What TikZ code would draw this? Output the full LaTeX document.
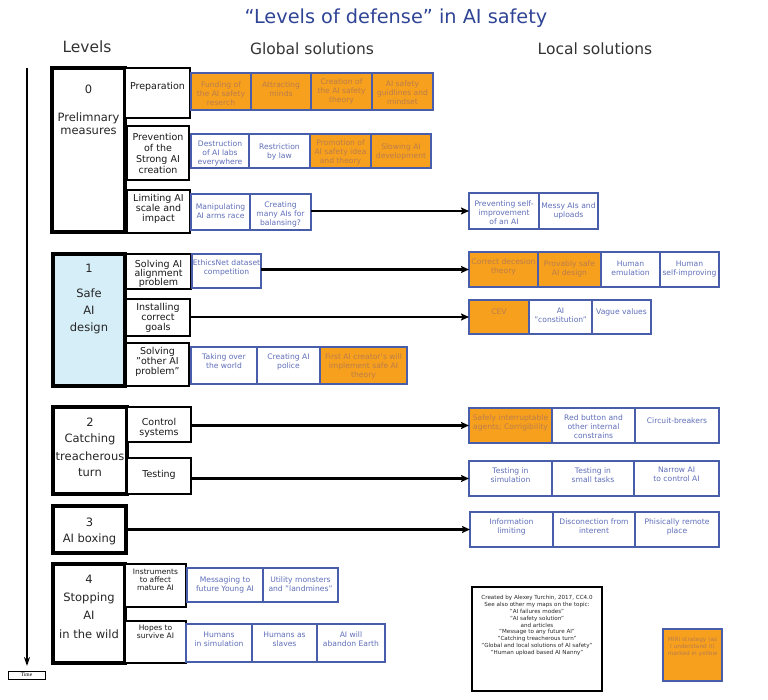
\documentclass[tikz,border=0pt]{standalone}
\usepackage{fontspec}
\setmainfont{DejaVu Sans}
\newfontfamily\timesf{Liberation Serif}
\usetikzlibrary{arrows.meta}
\definecolor{cellblue}{RGB}{72,94,170}
\definecolor{celltext}{RGB}{95,110,185}
\definecolor{orfill}{RGB}{247,160,30}
\definecolor{ortext}{RGB}{185,125,75}
\definecolor{lvlblue}{RGB}{214,238,248}
\definecolor{titleblue}{RGB}{48,68,150}
\newcommand\cell[8]{%
  \node[#1, anchor=north west, minimum width={#5-#3}, minimum height={#6-#4}] (#2) at (#3,#4) {};
  \node[#1 text, anchor=north] (#2-t) at ([yshift=-#7pt]#2.north) {#8};
}
\begin{document}
\begin{tikzpicture}[x=1pt,y=-1pt,
  cellbase/.style={draw=cellblue, line width=1.5pt, inner sep=0pt, outer sep=0pt},
  cellw/.style={cellbase, fill=white},
  cello/.style={cellbase, fill=orfill},
  cellw text/.style={text=celltext, font=\fontsize{7.6}{9}\selectfont, align=center, inner sep=0pt, yshift=4.7pt},
  cello text/.style={text=ortext, font=\fontsize{7.6}{9}\selectfont, align=center, inner sep=0pt, yshift=4.7pt},
  sub/.style={draw=black, line width=2.5pt, fill=white, inner sep=0pt, outer sep=0pt},
  sub text/.style={text=black!90, font=\fontsize{9.5}{10}\selectfont, align=center, inner sep=0pt, yshift=6.7pt},
  subs/.style={sub},
  subs text/.style={text=black!90, font=\fontsize{7.5}{8}\selectfont, align=center, inner sep=0pt, yshift=5.2pt},
  lvl/.style={draw=black, line width=3.2pt, fill=white, inner sep=0pt, outer sep=0pt},
  lvl text/.style={text=black!85, font=\fontsize{11.5}{17}\selectfont, align=center, inner sep=0pt, yshift=8.1pt},
  lvlb/.style={lvl, fill=lvlblue},
  lvlb text/.style={lvl text},
  arr/.style={draw=black, line width=2.8pt, -{Stealth[length=8pt,width=7pt,inset=1.5pt]}},
  timearr/.style={draw=black, line width=2pt, -{Stealth[length=9pt,width=6pt]}},
  hdr/.style={font=\fontsize{15.5}{17}\selectfont, text=black!80, inner sep=0pt, anchor=base},
  ttl/.style={font=\fontsize{19.3}{21}\selectfont, text=titleblue, inner sep=0pt, anchor=base}
]
\useasboundingbox (0,0) rectangle (768,700);
% titles
\node[ttl] (title) at (396,24) {“Levels of defense” in AI safety};
\node[hdr] (hlev) at (87,53) {Levels};
\node[hdr] (hglob) at (312,55) {Global solutions};
\node[hdr] (hloc) at (595,55) {Local solutions};
% time axis
\coordinate (t0) at (27,68);
\coordinate (t1) at (27,666);
\draw[timearr] (t0) -- (t1);
\node[draw=black, line width=0.8pt, minimum width=37pt, minimum height=8pt, inner sep=0pt, font=\timesf\fontsize{5.5}{6}\selectfont] (time) at (26.5,675) {Time};
% ---------- level 0
\cell{lvl}{L0}{52}{68}{125}{232}{25}{0\\[11pt]Prelimnary\\[-4pt]measures}
\cell{sub}{S01}{125}{68}{190}{118}{21}{Preparation}
\cell{sub}{S02}{127}{126}{189}{180}{14}{Prevention\\[1pt]of the\\[1pt]Strong AI\\[1pt]creation}
\cell{sub}{S03}{127}{190}{190}{233}{11}{Limiting AI\\scale and\\impact}
\cell{cello}{G01a}{191}{73}{251}{110}{13}{Funding of\\the AI safety\\reserch}
\cell{cello}{G01b}{251}{73}{311}{110}{13}{Attracting\\minds}
\cell{cello}{G01c}{311}{73}{372}{110}{10}{Creation of\\the AI safety\\theory}
\cell{cello}{G01d}{372}{73}{433}{110}{12}{AI safety\\guidlines and\\mindset}
\cell{cellw}{G02a}{191}{134}{249}{168}{11}{Destruction\\of AI labs\\everywhere}
\cell{cellw}{G02b}{249}{134}{310}{168}{14}{Restriction\\by law}
\cell{cello}{G02c}{310}{134}{371}{168}{10}{Promotion of\\AI safety idea\\and theory}
\cell{cello}{G02d}{371}{134}{431}{168}{14}{Slowing AI\\development}
\cell{cellw}{G03a}{191}{194}{250}{230}{14}{Manipulating\\AI arms race}
\cell{cellw}{G03b}{250}{194}{311}{230}{12}{Creating\\many AIs for\\balansing?}
\cell{cellw}{L03a}{469}{193}{539}{229}{12}{Preventing self-\\improvement\\of an AI}
\cell{cellw}{L03b}{539}{193}{598}{229}{14}{Messy AIs and\\uploads}
% ---------- level 1
\cell{lvlb}{L1}{53}{254}{125}{386}{18}{1\\[8pt]Safe\\AI\\design}
\cell{sub}{S11}{126}{254}{191}{289}{13}{Solving AI\\[-1pt]alignment\\[-1pt]problem}
\cell{sub}{S12}{126}{299}{190}{336}{11}{Installing\\correct\\goals}
\cell{sub}{S13}{126}{343}{189}{386}{11}{Solving\\"other AI\\problem"}
\cell{cellw}{G11}{192}{254}{261}{288}{10}{EthicsNet dataset\\competition}
\cell{cello}{L11a}{469}{252}{538}{287}{11}{Correct decesion\\theory}
\cell{cello}{L11b}{538}{252}{601}{287}{13}{Provably safe\\AI design}
\cell{cellw}{L11c}{601}{252}{660}{287}{13}{Human\\emulation}
\cell{cellw}{L11d}{660}{252}{719}{287}{13}{Human\\self-improving}
\cell{cello}{L12a}{469}{300}{529}{334}{13}{CEV}
\cell{cellw}{L12b}{529}{300}{592}{334}{12}{AI\\"constitution"}
\cell{cellw}{L12c}{592}{300}{651}{334}{13}{Vague values}
\cell{cellw}{G13a}{191}{347}{257}{384}{11}{Taking over\\the world}
\cell{cellw}{G13b}{257}{347}{320}{384}{11}{Creating AI\\police}
\cell{cello}{G13c}{320}{347}{407}{384}{11}{First AI creator's will\\implement safe AI\\theory}
% ---------- level 2
\cell{lvl}{L2}{53}{407}{127}{494}{19}{2\\[-1pt]Catching\\[1pt]treacherous\\[-1pt]turn}
\cell{sub}{S21}{127}{407}{191}{442}{18}{Control\\systems}
\cell{sub}{S22}{127}{458}{191}{494}{19}{Testing}
\cell{cello}{L21a}{469}{408}{552}{443}{11}{Safely interruptable\\agents; Corrigibility}
\cell{cellw}{L21b}{552}{408}{635}{443}{11}{Red button and\\other internal\\constrains}
\cell{cellw}{L21c}{635}{408}{719}{443}{14}{Circuit-breakers}
\cell{cellw}{L22a}{469}{461}{552}{496}{11}{Testing in\\simulation}
\cell{cellw}{L22b}{552}{461}{634}{496}{11}{Testing in\\small tasks}
\cell{cellw}{L22c}{634}{461}{719}{496}{10}{Narrow AI\\to control AI}
% ---------- level 3
\cell{lvl}{L3}{53}{506}{126}{553}{20}{3\\[-1pt]AI boxing}
\cell{cellw}{L31a}{470}{512}{553}{547}{11}{Information\\limiting}
\cell{cellw}{L31b}{553}{512}{635}{547}{11}{Disconection from\\interent}
\cell{cellw}{L31c}{635}{512}{719}{547}{11}{Phisically remote\\place}
% ---------- level 4
\cell{lvl}{L4}{53}{564}{125}{663}{19}{4\\[1pt]Stopping\\[1pt]AI\\[2pt]in the wild}
\cell{subs}{S41}{125}{564}{186}{607}{10.5}{Instruments\\to affect\\mature AI}
\cell{subs}{S42}{125}{621}{186}{663}{9.5}{Hopes to\\survive AI}
\cell{cellw}{G41a}{187}{568}{263}{602}{13}{Messaging to\\future Young AI}
\cell{cellw}{G41b}{263}{568}{338}{602}{13}{Utility monsters\\and "landmines"}
\cell{cellw}{G42a}{186}{624}{252}{662}{12}{Humans\\in simulation}
\cell{cellw}{G42b}{252}{624}{317}{662}{12}{Humans as\\slaves}
\cell{cellw}{G42c}{317}{624}{385}{662}{12}{AI will\\abandon Earth}
% ---------- arrows
\draw[arr] (G03b.east |- L03a.west) -- (L03a.west);
\draw[arr] (G11.east |- L11a.west) -- (L11a.west);
\draw[arr] (S12.east |- L12a.west) -- (L12a.west);
\draw[arr] (S21.east |- L21a.west) -- (L21a.west);
\draw[arr] (S22.east |- L22a.west) -- (L22a.west);
\draw[arr] (L3.east |- L31a.west) -- (L31a.west);
% ---------- notes
\node[draw=black, line width=2pt, anchor=north west, minimum width=130pt, minimum height=104pt, inner sep=0pt] (cred) at (471,586) {};
\node[anchor=north, align=center, inner sep=0pt, font=\fontsize{5.6}{6.9}\selectfont, text=black!85] (cred-t) at ([yshift=-9pt]cred.north) {Created by Alexey Turchin, 2017, CC4.0\\See also other my maps on the topic:\\"AI failures modes"\\"AI safety solution"\\and articles\\"Message to any future AI"\\"Catching treacherous turn"\\"Global and local solutions of AI safety"\\"Human upload based AI Nanny"};
\node[cello, anchor=north west, minimum width=59pt, minimum height=52pt] (miri) at (663,629) {};
\node[anchor=north, align=center, inner sep=0pt, font=\fontsize{5.8}{6.8}\selectfont, text=ortext] (miri-t) at ([yshift=-8pt]miri.north) {MIRI strategy (as\\I understand it)\\marked in yellow};
\end{tikzpicture}
\end{document}
